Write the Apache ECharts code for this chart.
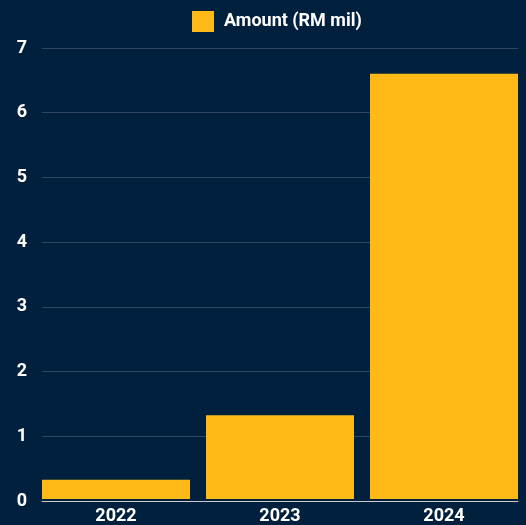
<!DOCTYPE html>
<html><head><meta charset="utf-8">
<script src="https://cdn.jsdelivr.net/npm/echarts@6/dist/echarts.min.js"></script>
<style>html,body{margin:0;padding:0;background:#01203e;}#c{width:526px;height:525px;}</style>
</head><body><div id="c"></div>
<script>
const categories = ['2022', '2023', '2024'];
const amounts = [0.3, 1.3, 6.6];
const seriesName = 'Amount (RM mil)';
const yMin = 0, yMax = 7, yStep = 1;

const chart = echarts.init(document.getElementById('c'));
const font = 'Roboto';
chart.setOption({
  backgroundColor: '#01203e',
  animation: false,
  textStyle: { fontFamily: font },
  legend: {
    top: 11,
    left: 192,
    padding: 0,
    itemWidth: 22,
    itemHeight: 21,
    textStyle: { color: '#ffffff', fontWeight: 'bold', fontSize: 18, fontFamily: font, padding: [0, 0, 0, 5] },
    data: [{ name: seriesName, icon: 'rect' }]
  },
  grid: [
    { left: 42, right: 8, top: 48, bottom: 24 },
    { left: 34, right: 0, top: 48, bottom: 24 }
  ],
  xAxis: [
    {
      gridIndex: 0, type: 'category', data: categories,
      axisLine: { lineStyle: { color: '#c8ccd2', width: 1 } },
      axisTick: { show: false }, axisLabel: { show: false }
    },
    {
      gridIndex: 1, type: 'category', data: categories,
      axisLine: { show: false }, axisTick: { show: false },
      axisLabel: { color: '#ffffff', fontWeight: 'bold', fontSize: 18, margin: 8, fontFamily: font }
    }
  ],
  yAxis: [
    {
      gridIndex: 0, type: 'value', min: yMin, max: yMax, interval: yStep,
      axisLine: { show: false }, axisTick: { show: false },
      splitLine: { lineStyle: { color: '#2e4660', width: 1 } },
      axisLabel: { color: '#ffffff', fontWeight: 'bold', fontSize: 18, margin: 15, fontFamily: font }
    },
    {
      gridIndex: 1, type: 'value', min: yMin, max: yMax, interval: yStep, show: false
    }
  ],
  series: [{
    name: seriesName,
    type: 'bar',
    xAxisIndex: 1, yAxisIndex: 1,
    data: amounts,
    barWidth: 148,
    itemStyle: { color: '#ffba17' },
    z: 3
  }]
});
</script></body></html>
